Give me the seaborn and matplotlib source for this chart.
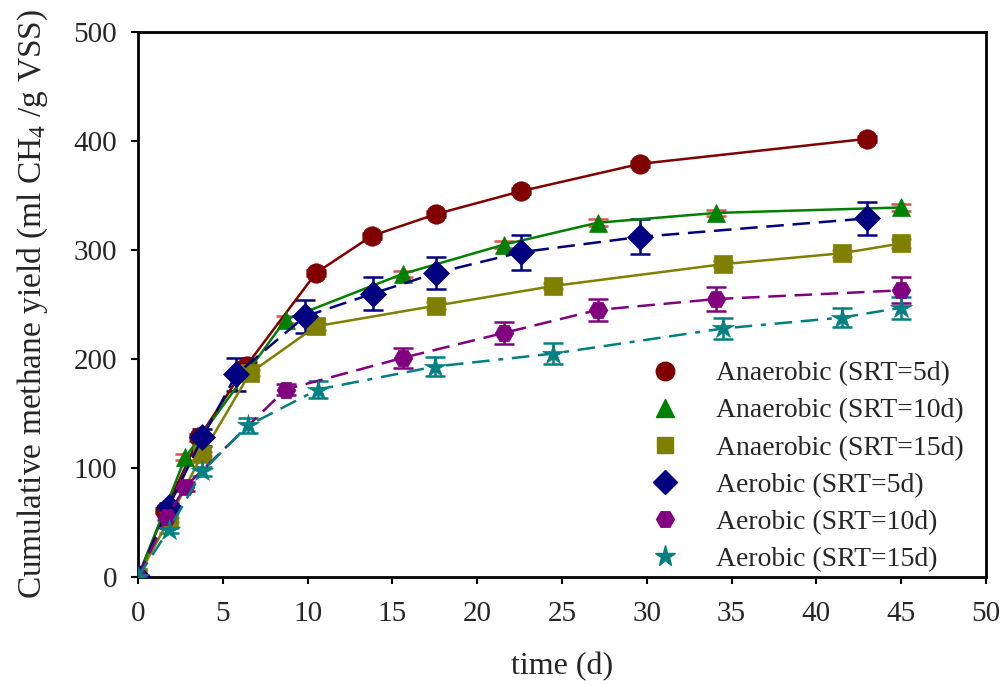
import numpy as np
import pandas as pd
import seaborn as sns
import matplotlib
matplotlib.use("Agg")
import matplotlib.pyplot as plt
from matplotlib.lines import Line2D

# Cumulative methane yield (ml CH4 / g VSS) over digestion time (d)
labels = ["Anaerobic (SRT=5d)", "Anaerobic (SRT=10d)", "Anaerobic (SRT=15d)",
          "Aerobic (SRT=5d)", "Aerobic (SRT=10d)", "Aerobic (SRT=15d)"]

an5_t = [0, 1.6, 3.6, 6.4, 10.5, 13.8, 17.6, 22.6, 29.6, 43.0]
an5_y = [0, 61, 128, 194, 279, 313, 333, 354, 379, 402]
an5_e = [0, 2, 3, 3, 3, 3, 3, 3, 3, 3]

an10_t = [0, 2.8, 8.7, 15.6, 21.6, 27.1, 34.1, 45.0]
an10_y = [0, 110, 236, 278, 305, 325, 334, 339]
an10_e = [0, 3, 3, 3, 3, 3, 3, 3]

an15_t = [0, 1.8, 3.8, 6.6, 10.5, 17.6, 24.5, 34.5, 41.5, 45.0]
an15_y = [0, 52, 113, 187, 230, 249, 267, 287, 297, 306]
an15_e = [0, 2, 2, 3, 3, 3, 3, 3, 3, 4]

ae5_t = [0, 1.8, 3.8, 5.8, 9.85, 13.85, 17.6, 22.6, 29.6, 43.0]
ae5_y = [0, 64, 128, 186, 239, 260, 279, 298, 312, 329]
ae5_e = [0, 4, 8, 15, 15, 15, 15, 16, 16, 15]

ae10_t = [0, 1.7, 2.8, 8.7, 15.6, 21.6, 27.1, 34.1, 45.0]
ae10_y = [0, 55, 83, 172, 201, 224, 245, 255, 263]
ae10_e = [0, 3, 4, 5, 9, 10, 10, 11, 12]

ae15_t = [0, 1.8, 3.8, 6.5, 10.6, 17.5, 24.5, 34.5, 41.5, 45.0]
ae15_y = [0, 43, 97, 139, 172, 193, 205, 228, 238, 247]
ae15_e = [0, 3, 4, 7, 8, 9, 10, 10, 9, 10]

x_ticks = [0, 5, 10, 15, 20, 25, 30, 35, 40, 45, 50]
y_ticks = [0, 100, 200, 300, 400, 500]

series = [
    (an5_t, an5_y, an5_e),
    (an10_t, an10_y, an10_e),
    (an15_t, an15_y, an15_e),
    (ae5_t, ae5_y, ae5_e),
    (ae10_t, ae10_y, ae10_e),
    (ae15_t, ae15_y, ae15_e),
]

colors = ["#800000", "#008000", "#808000", "#000080", "#800080", "#008080"]
err_colors = ["#800000", "#e05050", "#808000", "#000080", "#800080", "#008080"]
markers = ["o", "^", "s", "D", "H", "*"]
msizes = [14, 13, 12.5, 13, 13.5, 16]
dash_styles = [None, None, None, (7, 3.5), (7, 3.5), (7, 3.5, 7, 3.5, 2, 3.5)]

frames = []
for lab, (t, y, e) in zip(labels, series):
    frames.append(pd.DataFrame({"time": t, "yield": y, "err": e, "series": lab}))
df = pd.concat(frames, ignore_index=True)

sns.set_style("white")
plt.rcParams["font.family"] = ["Liberation Serif", "DejaVu Serif"]
plt.rcParams["mathtext.fontset"] = "custom"
plt.rcParams["mathtext.rm"] = "Liberation Serif"
plt.rcParams["mathtext.default"] = "regular"

fig = plt.figure(figsize=(10.02, 6.86), dpi=100)
ax = fig.add_axes([0.1377, 0.1589, 0.8463, 0.7945])

for lab, col, ecol, mk, ms, ds in zip(labels, colors, err_colors, markers, msizes, dash_styles):
    sub = df[df["series"] == lab]
    ax.errorbar(sub["time"], sub["yield"], yerr=sub["err"], fmt="none",
                ecolor=ecol, elinewidth=1.8, capsize=7, capthick=1.8, zorder=2)
    sns.lineplot(data=sub, x="time", y="yield", ax=ax, color=col, marker=mk,
                 markersize=ms, markeredgecolor=col, markeredgewidth=0.5,
                 linewidth=1.8, estimator=None, sort=False, legend=False, zorder=3)
    if ds is not None:
        ax.lines[-1].set_dashes(ds)

ax.set_xlim(0, 50)
ax.set_ylim(0, 500)
ax.set_xticks(x_ticks)
ax.set_yticks(y_ticks)
ax.tick_params(axis="both", which="major", direction="out", length=5, width=1.5,
               labelsize=21, color="black", left=True, bottom=True)
ax.tick_params(axis="y", pad=10)
ax.tick_params(axis="x", pad=12)
for sp in ax.spines.values():
    sp.set_visible(True)
    sp.set_color("black")
    sp.set_linewidth(2)

ax.set_xlabel("time (d)", fontsize=23, labelpad=18)
ax.set_ylabel("Cumulative methane yield (ml CH$_4$ /g VSS)", fontsize=24, labelpad=17)

handles = [Line2D([], [], linestyle="none", marker=mk, markersize=ms * 0.95,
                  color=col, markeredgecolor=col)
           for col, mk, ms in zip(colors, markers, msizes)]
fig.legend(handles, labels, loc="upper left", bbox_to_anchor=(648 / 1002, 1 - 361 / 686),
           frameon=False, fontsize=20, handlelength=1.25, handletextpad=1.2,
           labelspacing=0.42, borderpad=0, borderaxespad=0)

fig.savefig("out.png", dpi=100)
